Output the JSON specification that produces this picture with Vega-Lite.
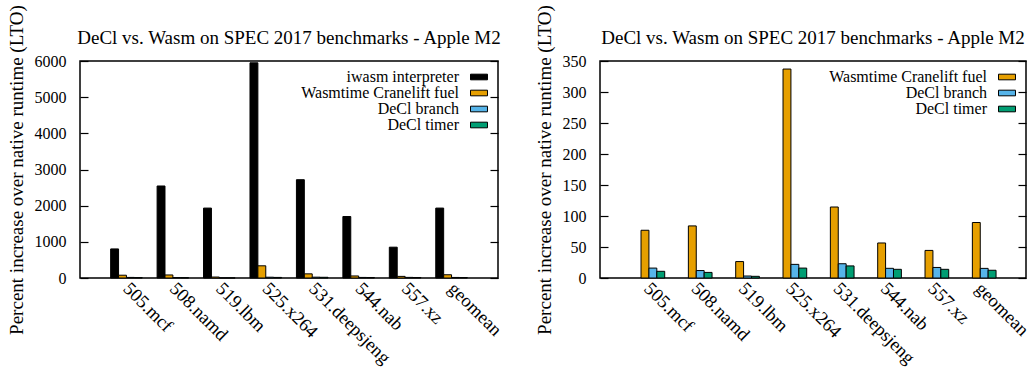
{
  "$schema": "https://vega.github.io/schema/vega-lite/v6.json",
  "padding": {"left": 6, "top": 3, "right": 0, "bottom": 0},
  "spacing": 28,
  "datasets": {
    "d": [
      {"bench": "505.mcf", "series": "iwasm interpreter", "value": 804},
      {"bench": "508.namd", "series": "iwasm interpreter", "value": 2544},
      {"bench": "519.lbm", "series": "iwasm interpreter", "value": 1933},
      {"bench": "525.x264", "series": "iwasm interpreter", "value": 5950},
      {"bench": "531.deepsjeng", "series": "iwasm interpreter", "value": 2718},
      {"bench": "544.nab", "series": "iwasm interpreter", "value": 1700},
      {"bench": "557.xz", "series": "iwasm interpreter", "value": 852},
      {"bench": "geomean", "series": "iwasm interpreter", "value": 1933},
      {"bench": "505.mcf", "series": "Wasmtime Cranelift fuel", "value": 77},
      {"bench": "508.namd", "series": "Wasmtime Cranelift fuel", "value": 84},
      {"bench": "519.lbm", "series": "Wasmtime Cranelift fuel", "value": 26.5},
      {"bench": "525.x264", "series": "Wasmtime Cranelift fuel", "value": 337},
      {"bench": "531.deepsjeng", "series": "Wasmtime Cranelift fuel", "value": 114.5},
      {"bench": "544.nab", "series": "Wasmtime Cranelift fuel", "value": 56.5},
      {"bench": "557.xz", "series": "Wasmtime Cranelift fuel", "value": 44.5},
      {"bench": "geomean", "series": "Wasmtime Cranelift fuel", "value": 89.5},
      {"bench": "505.mcf", "series": "DeCl branch", "value": 16},
      {"bench": "508.namd", "series": "DeCl branch", "value": 12},
      {"bench": "519.lbm", "series": "DeCl branch", "value": 3.2},
      {"bench": "525.x264", "series": "DeCl branch", "value": 22},
      {"bench": "531.deepsjeng", "series": "DeCl branch", "value": 23},
      {"bench": "544.nab", "series": "DeCl branch", "value": 15.6},
      {"bench": "557.xz", "series": "DeCl branch", "value": 17},
      {"bench": "geomean", "series": "DeCl branch", "value": 15.5},
      {"bench": "505.mcf", "series": "DeCl timer", "value": 10.8},
      {"bench": "508.namd", "series": "DeCl timer", "value": 9},
      {"bench": "519.lbm", "series": "DeCl timer", "value": 2.7},
      {"bench": "525.x264", "series": "DeCl timer", "value": 16},
      {"bench": "531.deepsjeng", "series": "DeCl timer", "value": 19.5},
      {"bench": "544.nab", "series": "DeCl timer", "value": 14},
      {"bench": "557.xz", "series": "DeCl timer", "value": 14},
      {"bench": "geomean", "series": "DeCl timer", "value": 12.5}
    ]
  },
  "config": {
    "view": {"stroke": "black", "strokeWidth": 1.5},
    "axis": {"grid": false, "domain": false, "tickColor": "black", "tickWidth": 1.2},
    "legend": {"orient": "top-right", "title": null, "symbolType": "M-1.5,-0.5H1.5V0.5H-1.5Z", "symbolSize": 128, "symbolStrokeColor": "black", "symbolStrokeWidth": 1, "labelAlign": "right", "labelOffset": -28, "offset": 8, "padding": 0, "rowPadding": -3.5, "labelLimit": 400}
  },
  "hconcat": [
    {
      "width": 418,
      "height": 217,
      "title": {"text": "DeCl vs. Wasm on SPEC 2017 benchmarks - Apple M2", "font": "Liberation Serif", "fontSize": 19, "fontWeight": "normal", "color": "black", "offset": -43},
      "data": {"name": "d"},
      "layer": [
        {
          "mark": {"type": "bar", "stroke": "black", "strokeWidth": 1},
          "encoding": {
            "x": {"field": "bench", "type": "nominal", "sort": null, "scale": {"paddingInner": 0.32, "paddingOuter": 0.66},
                  "axis": {"title": null, "ticks": false, "labelAngle": 45, "labelAlign": "left", "labelBaseline": "middle", "labelPadding": 7, "labelDx": 6, "labelFont": "Liberation Serif", "labelFontSize": 18.5, "labelColor": "black"}},
            "xOffset": {"field": "series", "type": "nominal", "scale": {"domain": ["iwasm interpreter", "Wasmtime Cranelift fuel", "DeCl branch", "DeCl timer"], "paddingInner": 0, "paddingOuter": 0}},
            "y": {"field": "value", "type": "quantitative", "scale": {"domain": [0, 6000], "nice": false},
                  "axis": {"title": "Percent increase over native runtime (LTO)", "titleFont": "Liberation Serif", "titleFontSize": 19, "titleFontWeight": "normal", "titleColor": "black", "labelFont": "Liberation Serif", "labelFontSize": 16, "labelColor": "black", "format": "d", "values": [0, 1000, 2000, 3000, 4000, 5000, 6000], "tickSize": -8, "labelPadding": 22, "titlePadding": 8}},
            "color": {"field": "series", "type": "nominal", "scale": {"domain": ["iwasm interpreter", "Wasmtime Cranelift fuel", "DeCl branch", "DeCl timer"], "range": ["#000000", "#E69F00", "#56B4E9", "#009E73"]},
                      "legend": {"labelFont": "Liberation Serif", "labelFontSize": 16, "labelColor": "black"}}
          }
        },
        {
          "mark": {"type": "rule", "opacity": 0},
          "encoding": {
            "y": {"field": "value", "type": "quantitative", "axis": {"orient": "right", "labels": false, "title": null, "values": [0, 1000, 2000, 3000, 4000, 5000, 6000], "tickSize": 8, "offset": -8}}
          }
        }
      ],
      "resolve": {"axis": {"y": "independent"}}
    },
    {
      "width": 426,
      "height": 217,
      "title": {"text": "DeCl vs. Wasm on SPEC 2017 benchmarks - Apple M2", "font": "Liberation Serif", "fontSize": 19, "fontWeight": "normal", "color": "black", "offset": -43},
      "data": {"name": "d"},
      "transform": [{"filter": "datum.series !== 'iwasm interpreter'"}],
      "layer": [
        {
          "mark": {"type": "bar", "stroke": "black", "strokeWidth": 1},
          "encoding": {
            "x": {"field": "bench", "type": "nominal", "sort": null, "scale": {"paddingInner": 0.4, "paddingOuter": 0.7},
                  "axis": {"title": null, "ticks": false, "labelAngle": 45, "labelAlign": "left", "labelBaseline": "middle", "labelPadding": 7, "labelDx": 6, "labelFont": "Liberation Serif", "labelFontSize": 18.5, "labelColor": "black"}},
            "xOffset": {"field": "series", "type": "nominal", "scale": {"domain": ["Wasmtime Cranelift fuel", "DeCl branch", "DeCl timer"], "paddingInner": 0, "paddingOuter": 0}},
            "y": {"field": "value", "type": "quantitative", "scale": {"domain": [0, 350], "nice": false},
                  "axis": {"title": "Percent increase over native runtime (LTO)", "titleFont": "Liberation Serif", "titleFontSize": 19, "titleFontWeight": "normal", "titleColor": "black", "labelFont": "Liberation Serif", "labelFontSize": 16, "labelColor": "black", "format": "d", "values": [0, 50, 100, 150, 200, 250, 300, 350], "tickSize": -8, "labelPadding": 22, "titlePadding": 8}},
            "color": {"field": "series", "type": "nominal", "scale": {"domain": ["Wasmtime Cranelift fuel", "DeCl branch", "DeCl timer"], "range": ["#E69F00", "#56B4E9", "#009E73"]},
                      "legend": {"labelFont": "Liberation Serif", "labelFontSize": 16, "labelColor": "black"}}
          }
        },
        {
          "mark": {"type": "rule", "opacity": 0},
          "encoding": {
            "y": {"field": "value", "type": "quantitative", "axis": {"orient": "right", "labels": false, "title": null, "values": [0, 50, 100, 150, 200, 250, 300, 350], "tickSize": 8, "offset": -8}}
          }
        }
      ],
      "resolve": {"axis": {"y": "independent"}, "scale": {"color": "independent"}}
    }
  ],
  "resolve": {"scale": {"color": "independent"}, "legend": {"color": "independent"}}
}
